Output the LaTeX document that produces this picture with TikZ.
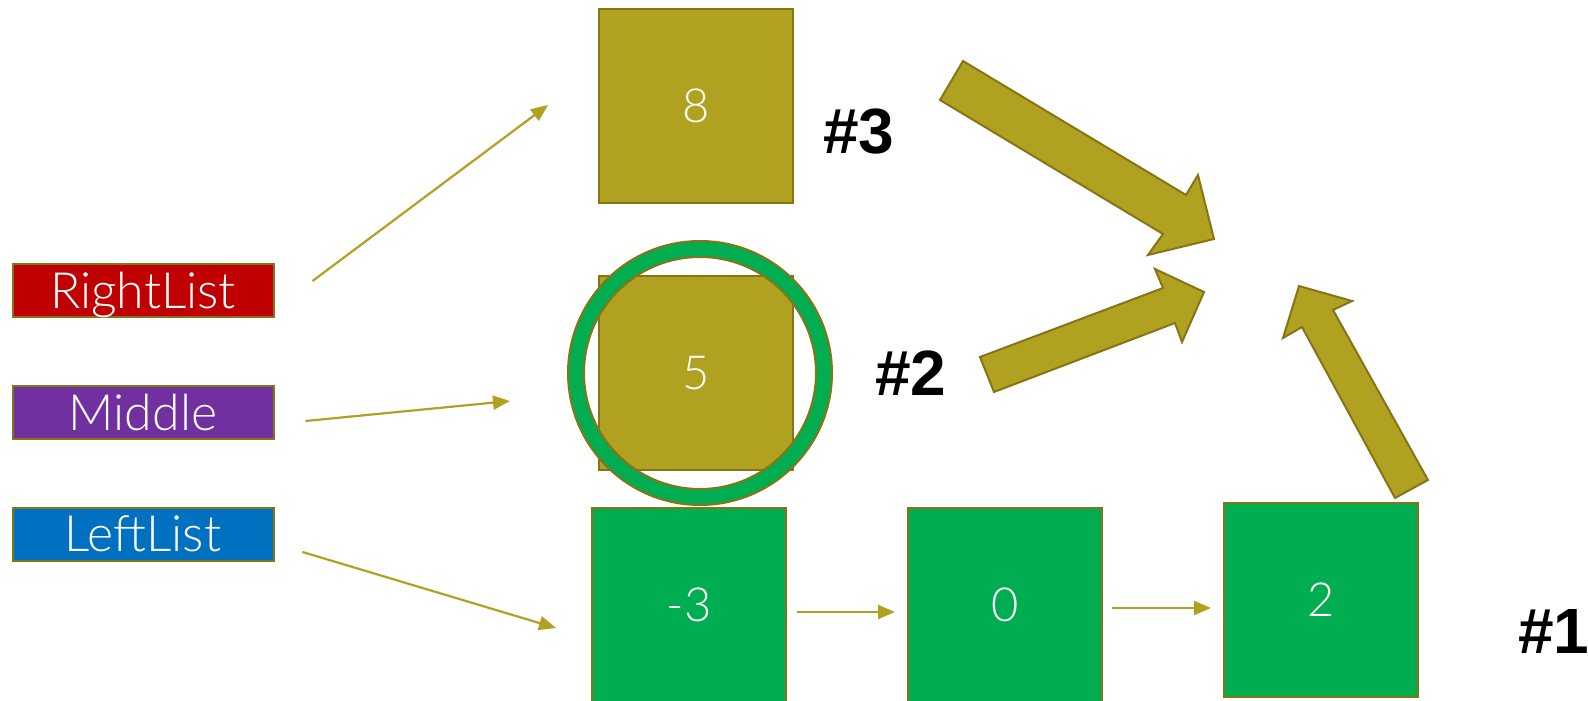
\documentclass[tikz,border=0pt]{standalone}
\usepackage{fontspec}
\setmainfont{Lato}[UprightFont={* Light}]
\newfontfamily\tagfont{Liberation Sans}
\usepackage{tikz}
\usetikzlibrary{calc,arrows.meta,positioning}
\definecolor{listOlive}{RGB}{176,161,33}
\definecolor{listOliveDark}{RGB}{133,117,22}
\definecolor{listGreen}{RGB}{0,173,80}
\definecolor{ptrRed}{RGB}{192,0,0}
\definecolor{ptrPurple}{RGB}{112,48,160}
\definecolor{ptrBlue}{RGB}{0,112,192}

\begin{document}
\begin{tikzpicture}[x=1pt,y=-1pt,
  ptr/.style={draw=listOliveDark, line width=2pt, text=white, minimum width=261pt, minimum height=53pt, inner sep=0pt, text depth=0pt, font=\fontsize{50}{54}\selectfont},
  cell/.style={draw=listOliveDark, line width=2pt, text=white, minimum width=194pt, minimum height=194pt, inner sep=0pt, font=\fontsize{47}{52}\selectfont},
  link/.style={listOlive, line width=2.2pt, -{Triangle[length=17pt,width=14pt]}},
  bigarrow/.style={fill=listOlive, draw=listOliveDark, line width=2pt, line join=miter},
  tag/.style={font=\tagfont\bfseries\fontsize{64}{70}\selectfont, inner sep=0pt}]
\useasboundingbox (0,0) rectangle (1588,701);

% pointers
\node[ptr, fill=ptrRed] (rl) at (143,290) {RightList};
\node[ptr, fill=ptrPurple] (ml) at (143,412) {Middle};
\node[ptr, fill=ptrBlue] (ll) at (143,534) {LeftList};

% list cells
\node[cell, fill=listOlive] (b8) at (696,106) {8};
\node[cell, fill=listOlive] (b5) at (696,373) {5};
\node[cell, fill=listGreen] (bm3) at (689,605) {-3};
\node[cell, fill=listGreen] (b0) at (1005,605) {0};
\node[cell, fill=listGreen] (b2) at (1321,600) {2};

% ring round the middle
\fill[listGreen, even odd rule] (700,373) circle[radius=132pt] circle[radius=116pt];
\draw[listOliveDark, line width=2pt] (700,373) circle[radius=132pt] (700,373) circle[radius=116pt];

\draw[link] ($(rl.east)+(38,-9)$) -- ($(b8.west)+(-50,-1)$);
\draw[link] ($(ml.east)+(31,9)$) -- ($(b5.west)+(-88,28)$);
\draw[link] ($(ll.east)+(28,18)$) -- ($(bm3.west)+(-35,23)$);
\draw[link] ($(bm3.east)+(10,7)$) -- ($(b0.west)+(-12,7)$);
\draw[link] ($(b0.east)+(9,3)$) -- ($(b2.west)+(-12,8)$);

% merge order
\draw[bigarrow] (963,61) -- (1186,195) -- (1198,175) -- (1214,239) -- (1148,255) -- (1163,234) -- (940,100) -- cycle;
\draw[bigarrow] (980,357) -- (1163,288) -- (1155,269) -- (1204,292) -- (1182,342) -- (1175,323) -- (994,392) -- cycle;
\draw[bigarrow] (1428,480) -- (1333,310) -- (1352,301) -- (1299,286) -- (1283,338) -- (1302,327) -- (1395,498) -- cycle;

\node[tag] (t3) at (859,132) {\#3};
\node[tag] (t2) at (911,373) {\#2};
\node[tag, anchor=west] (t1) at (1518,631) {\#1};
\end{tikzpicture}
\end{document}
